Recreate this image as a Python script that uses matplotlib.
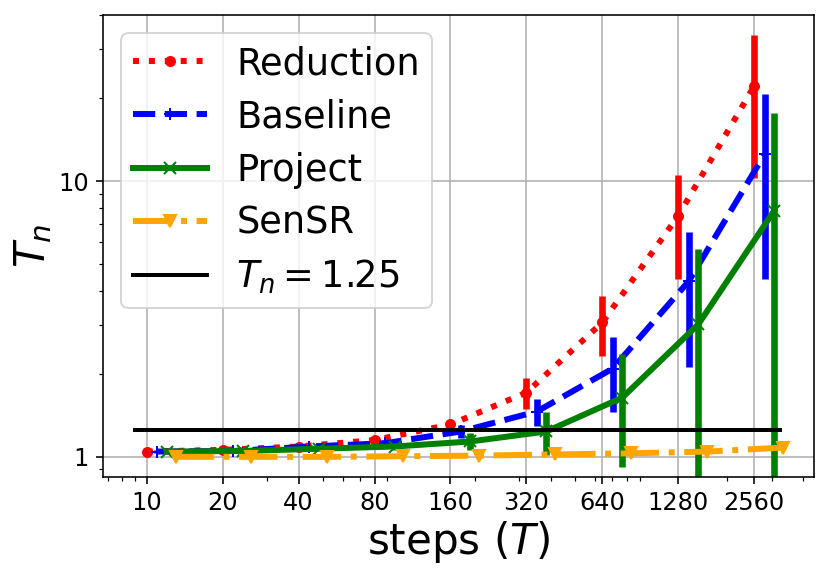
import matplotlib
matplotlib.use("Agg")
import matplotlib.pyplot as plt
from matplotlib.ticker import FixedLocator, FixedFormatter, NullFormatter, LogLocator

steps = [10, 20, 40, 80, 160, 320, 640, 1280, 2560]
tick_labels = [str(s) for s in steps]

reduction = [1.045, 1.06, 1.09, 1.15, 1.31, 1.71, 3.07, 7.48, 22.1]
reduction_err = [0.01, 0.01, 0.02, 0.03, 0.04, 0.22, 0.75, 3.05, 11.8]

baseline = [1.045, 1.05, 1.09, 1.12, 1.236, 1.46, 2.09, 4.33, 12.5]
baseline_err = [0.01, 0.01, 0.015, 0.03, 0.07, 0.165, 0.63, 2.22, 8.1]

project = [1.045, 1.05, 1.07, 1.09, 1.137, 1.236, 1.64, 3.02, 7.8]
project_err = [0.01, 0.01, 0.015, 0.03, 0.08, 0.22, 0.72, 2.64, 9.9]

sensr = [1.0, 1.0, 1.0, 1.005, 1.01, 1.02, 1.03, 1.045, 1.08]
sensr_err = [0.003, 0.003, 0.003, 0.004, 0.005, 0.006, 0.008, 0.01, 0.015]

threshold = 1.25
threshold_x = [9, 3250]

fig = plt.figure(figsize=(830 / 144, 577 / 144), dpi=144)
ax = fig.add_axes([0.124, 0.1733, 0.857, 0.8007])
ax.set_xscale("log")
ax.set_yscale("log")

series = [
    ("Reduction", reduction, reduction_err, "red", ":", "o", 4.5, 1.0),
    ("Baseline", baseline, baseline_err, "blue", "--", "+", 6, 1.1),
    ("Project", project, project_err, "green", "-", "x", 6, 1.2),
    ("SenSR", sensr, sensr_err, "orange", "-.", "v", 6, 1.3),
]

for name, vals, errs, col, ls, mk, ms, shift in series:
    xs = [s * shift for s in steps]
    ax.errorbar(xs, vals, yerr=errs, fmt="none", ecolor=col, elinewidth=3.3, capsize=0)
    ax.plot(xs, vals, color=col, linestyle=ls, marker=mk, markersize=ms, linewidth=3, label=name)

ax.plot(threshold_x, [threshold, threshold], color="black", linewidth=2, label=r"$T_n = 1.25$")

ax.set_xlim(6.7, 4430)
ax.set_ylim(0.845, 40)

ax.xaxis.set_major_locator(FixedLocator(steps))
ax.xaxis.set_major_formatter(FixedFormatter(tick_labels))
ax.xaxis.set_minor_locator(LogLocator(base=10, subs=range(2, 10)))
ax.xaxis.set_minor_formatter(NullFormatter())
ax.yaxis.set_major_locator(FixedLocator([1, 10]))
ax.yaxis.set_major_formatter(FixedFormatter(["1", "10"]))
ax.yaxis.set_minor_locator(LogLocator(base=10, subs=range(2, 10)))
ax.yaxis.set_minor_formatter(NullFormatter())
ax.tick_params(axis="both", which="major", labelsize=12)

ax.grid(True, which="major", color="#b0b0b0", linewidth=0.8)
ax.set_axisbelow(True)

ax.set_xlabel(r"steps ($T$)", fontsize=21, labelpad=2)
ax.set_ylabel(r"$T_n$", fontsize=21, labelpad=2)

ax.legend(loc="upper left", fontsize=18.4, labelspacing=0.44, borderpad=0.32)

fig.savefig("out.png", dpi=144)
